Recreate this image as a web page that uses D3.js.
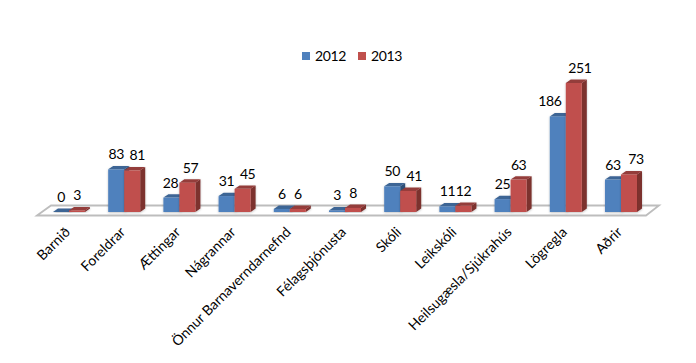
<!DOCTYPE html>
<html>
<head>
<meta charset="utf-8">
<script src="https://cdn.jsdelivr.net/npm/d3@7"></script>
<style>
    html, body { margin: 0; padding: 0; background: #fff; }
    text { font-family: Lato, "Open Sans", sans-serif; fill: #000; }
    .num { letter-spacing: -0.4px; }
</style>
</head>
<body>
<div id="chart"></div>
<script>
// Chart values
const categories = ["Barnið", "Foreldrar", "Ættingar", "Nágrannar", "Önnur Barnaverndarnefnd",
    "Félagsþjónusta", "Skóli", "Leikskóli", "Heilsugæsla/Sjúkrahús", "Lögregla", "Aðrir"];
const years = ["2012", "2013"];
const values2012 = [0, 83, 28, 31, 6, 3, 50, 11, 25, 186, 63];
const values2013 = [3, 81, 57, 45, 6, 8, 41, 12, 63, 251, 73];

const colors = {
    "2012": { front: "#4f81bd", top: "#3c6595", side: "#2f5077" },
    "2013": { front: "#c0504d", top: "#943c3a", side: "#7b302e" }
};

// 3D depth of the bars
const depthX = 5, depthY = 3.4;
const baseY = 212;

const svg = d3.select("#chart")
    .append("svg")
    .attr("width", 696)
    .attr("height", 363)
    .style("display", "block");

const xScale = d3.scaleBand()
    .domain(categories)
    .range([41.4, 648.6])
    .paddingInner(0.42)
    .paddingOuter(0.21);

const xInner = d3.scaleBand()
    .domain(years)
    .range([0, xScale.bandwidth()]);

const yScale = d3.scaleLinear()
    .domain([0, 251])
    .range([baseY, 83]);

// Floor of the chart
svg.append("polygon")
    .attr("points", [[37, 215.5], [51, 205.5], [659, 205.5], [646, 215.5]].join(" "))
    .attr("fill", "#fff")
    .attr("stroke", "#bdbdbd")
    .attr("stroke-width", 1.8);

// Soft shadow under the bars
const defs = svg.append("defs");
defs.append("filter")
    .attr("id", "soft")
    .append("feDropShadow")
    .attr("dx", 0)
    .attr("dy", 0.8)
    .attr("stdDeviation", 0.8)
    .attr("flood-color", "#000")
    .attr("flood-opacity", 0.25);

const series = [
    { year: "2012", values: values2012 },
    { year: "2013", values: values2013 }
];

series.forEach(s => {
    const c = colors[s.year];
    const bars = svg.append("g")
        .attr("class", "series-" + s.year)
        .selectAll("g")
        .data(s.values.map((v, i) => ({ cat: categories[i], value: v })))
        .enter()
        .append("g")
        .attr("filter", "url(#soft)");

    const left = d => xScale(d.cat) + xInner(s.year);
    const right = d => left(d) + xInner.bandwidth();

    // Right side face
    bars.append("polygon")
        .attr("fill", c.side)
        .attr("points", d => [
            [right(d), yScale(d.value)],
            [right(d) + depthX, yScale(d.value) - depthY],
            [right(d) + depthX, baseY - depthY],
            [right(d), baseY]
        ].join(" "));

    // Top face
    bars.append("polygon")
        .attr("fill", c.top)
        .attr("points", d => [
            [left(d), yScale(d.value)],
            [left(d) + depthX, yScale(d.value) - depthY],
            [right(d) + depthX, yScale(d.value) - depthY],
            [right(d), yScale(d.value)]
        ].join(" "));

    // Front face
    bars.append("rect")
        .attr("x", left)
        .attr("y", d => yScale(d.value))
        .attr("width", xInner.bandwidth())
        .attr("height", d => baseY - yScale(d.value))
        .attr("fill", c.front);
});

// Value labels, some are nudged sideways in the original
const nudge2012 = [0, 0, -1, 0, 0, 0, 0, 0, 0, -8, 0];
const nudge2013 = [0, 5, 3, 5, 0, 0, 6, 0, 0, 6, 7];

series.forEach((s, si) => {
    const nudge = si === 0 ? nudge2012 : nudge2013;
    svg.append("g")
        .selectAll("text")
        .data(s.values)
        .enter()
        .append("text")
        .attr("class", "num")
        .attr("x", (d, i) => xScale(categories[i]) + xInner(s.year) + xInner.bandwidth() / 2 + nudge[i])
        .attr("y", d => yScale(d) - 10)
        .attr("text-anchor", "middle")
        .style("font-size", "14px")
        .text(d => d);
});

// Category labels through the axis, rotated like the original
const xAxisGroup = svg.append("g")
    .attr("transform", "translate(0,222)")
    .call(d3.axisBottom(xScale).tickSize(0).tickPadding(0));
xAxisGroup.select(".domain").remove();
xAxisGroup.selectAll("text")
    .attr("text-anchor", "end")
    .attr("dy", 0)
    .attr("transform", "translate(2,11) rotate(-45)")
    .style("font-size", "14px")
    .style("font-family", "Lato, 'Open Sans', sans-serif");

// Legend
const legend = svg.append("g")
    .selectAll("g")
    .data(years)
    .enter()
    .append("g")
    .attr("transform", (d, i) => `translate(${302 + i * 56},52)`);
legend.append("rect")
    .attr("width", 8)
    .attr("height", 8)
    .attr("fill", d => colors[d].front);
legend.append("text")
    .attr("class", "num")
    .attr("x", 13)
    .attr("y", 9)
    .style("font-size", "14px")
    .text(d => d);
</script>
</body>
</html>
